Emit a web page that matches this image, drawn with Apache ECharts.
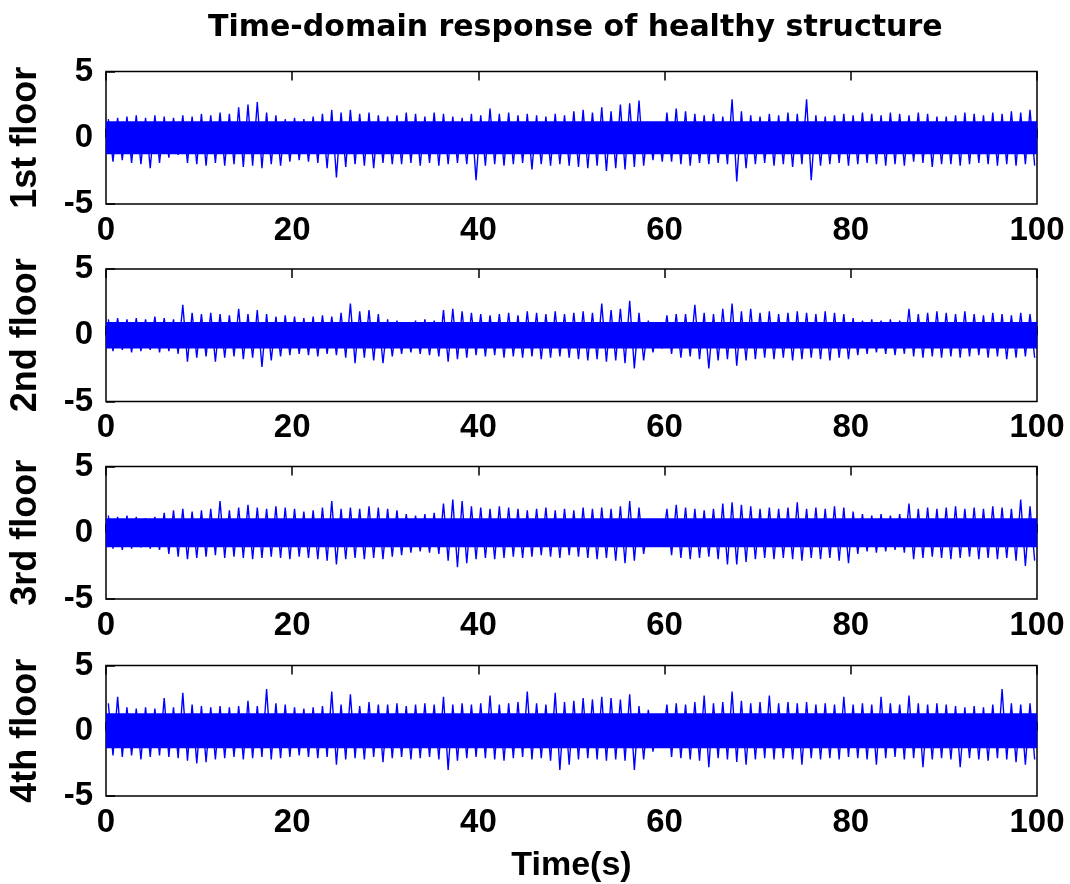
<!DOCTYPE html>
<html>
<head>
<meta charset="utf-8">
<title>Time-domain response of healthy structure</title>
<script src="https://cdn.jsdelivr.net/npm/echarts@6/dist/echarts.min.js"></script>
<style>
  html, body { margin: 0; padding: 0; background: #fff; }
  #main { width: 1070px; height: 884px; }
</style>
</head>
<body>
<div id="main"></div>
<script>
// envelope of each record, read per 1 s bin (upper peak / lower peak)
var floorNames = ['1st floor', '2nd floor', '3rd floor', '4th floor'];
var xTicks = [0, 20, 40, 60, 80, 100];
var yTicks = [-5, 0, 5];

var hi1 = [1.4,1.5,1.6,1.7,1.5,1.7,1.6,1.5,1.7,1.6, 1.8,1.7,1.9,1.8,2.3,2.5,2.7,1.9,1.7,1.4,
           1.5,1.4,1.6,1.8,2.1,1.9,2.1,1.8,1.9,1.7, 1.6,1.7,1.9,1.8,1.6,1.9,1.8,1.6,1.5,1.8,
           1.7,2.2,1.8,1.9,1.7,1.8,1.7,1.6,1.8,1.7, 2.0,2.1,1.9,2.3,2.0,2.5,2.6,2.8,1.2,1.1,
           1.9,2.2,2.0,1.8,1.7,1.8,1.6,2.9,2.0,1.7, 1.6,1.8,1.7,1.9,1.8,2.9,1.7,1.6,1.7,1.8,
           1.7,1.9,1.8,1.7,1.9,1.8,1.7,1.9,1.8,1.6, 1.6,1.7,1.9,1.8,1.7,1.9,1.8,2.0,1.9,2.1];
var lo1 = [-1.8,-1.7,-1.9,-2.0,-2.3,-1.9,-1.5,-1.3,-1.9,-2.0, -2.1,-1.9,-2.1,-2.0,-2.2,-2.1,-2.3,-2.0,-2.1,-1.8,
           -1.7,-1.8,-1.9,-2.3,-3.0,-2.2,-2.0,-2.1,-2.3,-1.9, -2.0,-2.0,-1.9,-2.1,-1.9,-2.1,-2.0,-1.9,-2.0,-3.2,
           -2.1,-2.0,-2.1,-2.0,-1.9,-2.4,-2.0,-2.1,-2.0,-2.1, -2.2,-2.3,-2.1,-2.5,-2.3,-2.4,-2.2,-2.1,-1.7,-1.8,
           -1.8,-2.0,-2.1,-1.9,-2.0,-1.9,-2.0,-3.3,-2.3,-2.0, -1.9,-2.1,-2.0,-2.2,-2.0,-3.2,-2.1,-2.0,-1.9,-2.1,
           -2.0,-1.9,-2.0,-2.1,-2.0,-2.1,-1.8,-1.9,-2.2,-2.0, -2.0,-2.1,-2.0,-1.9,-2.0,-2.1,-2.0,-2.1,-2.0,-2.1];

var hi2 = [1.2,1.3,1.2,1.3,1.2,1.4,1.3,1.2,2.3,1.7, 1.6,1.7,1.6,1.5,2.0,1.6,1.9,1.6,1.4,1.5,
           1.4,1.3,1.4,1.5,1.4,1.7,2.4,1.8,1.9,1.6, 1.2,1.1,1.0,1.1,1.2,1.1,1.9,2.0,1.8,1.7,
           1.6,1.5,1.6,1.7,1.5,1.8,1.7,1.6,1.8,1.6, 1.7,1.8,1.7,2.4,1.9,2.0,2.6,1.7,1.1,0.9,
           1.5,1.6,1.6,2.3,1.7,1.6,2.0,2.4,1.8,2.0, 1.7,1.8,1.6,1.7,1.8,1.7,1.6,1.8,1.7,1.6,
           1.3,1.1,1.2,1.1,1.2,1.1,2.0,1.6,1.7,1.8, 1.7,1.6,1.8,1.6,1.5,1.7,1.6,1.5,1.7,1.6];
var lo2 = [-1.2,-1.1,-1.3,-1.2,-1.1,-1.3,-1.2,-1.4,-2.0,-1.7, -1.6,-2.0,-1.7,-1.6,-1.8,-1.7,-2.4,-1.9,-1.6,-1.5,
           -1.4,-1.5,-1.6,-1.4,-1.5,-1.7,-2.1,-1.7,-1.9,-2.1, -1.6,-1.4,-1.3,-1.4,-1.5,-1.6,-2.0,-1.8,-1.7,-1.5,
           -1.6,-1.5,-1.7,-1.6,-1.7,-1.6,-1.8,-1.7,-1.6,-1.7, -1.8,-1.9,-1.8,-2.0,-1.9,-2.1,-2.5,-1.9,-1.3,-1.0,
           -1.4,-1.7,-1.6,-1.8,-2.5,-1.9,-1.8,-2.3,-1.9,-1.8, -1.7,-1.8,-1.7,-1.9,-1.8,-1.7,-1.8,-1.9,-1.7,-1.8,
           -1.5,-1.4,-1.3,-1.4,-1.5,-1.4,-1.6,-1.7,-1.6,-1.7, -1.6,-1.7,-1.6,-1.5,-1.7,-1.6,-1.8,-1.7,-1.6,-1.7];

var hi3 = [1.3,1.2,1.3,1.2,1.1,1.2,1.5,1.7,1.8,1.6, 1.7,1.8,2.4,1.7,1.9,2.1,1.9,1.8,2.0,1.9,
           1.8,1.6,1.7,1.9,2.4,1.8,1.9,1.8,2.0,1.9, 1.8,1.7,1.4,1.3,1.4,1.5,2.2,2.5,2.4,2.0,
           1.9,1.8,2.0,1.9,1.8,1.7,1.8,1.9,1.7,1.8, 1.7,1.9,1.8,1.9,1.8,2.0,2.4,1.9,0.7,0.6,
           1.8,2.1,1.9,1.8,1.7,1.8,2.2,2.3,2.1,2.0, 1.8,1.9,1.8,1.9,2.3,1.8,1.9,1.8,2.0,1.9,
           1.6,1.4,1.3,1.4,1.3,1.4,2.2,1.8,1.9,1.8, 1.9,2.0,1.8,1.9,1.8,2.0,1.9,1.8,2.5,2.0];
var lo3 = [-1.2,-1.3,-1.2,-1.1,-1.2,-1.3,-1.6,-1.8,-2.0,-1.9, -1.8,-1.7,-1.9,-1.8,-1.9,-2.0,-1.9,-1.8,-1.9,-2.0,
           -1.8,-1.9,-2.0,-2.1,-2.4,-2.0,-1.9,-2.0,-1.9,-2.0, -1.8,-1.7,-1.5,-1.4,-1.5,-1.6,-2.1,-2.6,-2.3,-2.0,
           -1.9,-2.0,-1.9,-1.8,-1.9,-1.8,-1.7,-1.8,-1.9,-1.7, -1.8,-1.9,-2.0,-1.9,-2.1,-2.3,-2.1,-1.6,-0.9,-1.0,
           -1.7,-1.9,-2.0,-1.9,-1.8,-2.0,-2.4,-2.4,-2.2,-2.0, -1.9,-2.0,-1.9,-2.0,-2.1,-1.9,-2.0,-1.9,-2.1,-2.3,
           -1.6,-1.4,-1.5,-1.4,-1.3,-1.5,-2.0,-1.9,-1.8,-1.9, -2.0,-1.9,-1.8,-2.0,-1.9,-2.0,-1.9,-2.1,-2.5,-2.1];

var hi4 = [2.1,2.6,1.8,1.7,1.8,1.7,2.5,1.8,2.9,2.0, 1.9,1.8,1.9,1.8,1.9,2.3,1.9,3.2,2.1,2.0,
           1.8,1.7,1.8,1.9,3.0,2.0,2.8,1.9,2.2,2.0, 2.0,2.1,1.9,2.0,2.1,2.0,2.6,2.0,2.1,2.0,
           2.1,2.7,2.0,2.1,2.2,3.0,2.1,2.0,2.9,2.2, 2.3,2.5,2.4,2.6,2.5,2.4,2.8,1.9,1.6,0.9,
           2.0,2.1,2.0,2.2,2.7,2.1,2.2,3.0,2.3,2.1, 2.2,2.7,2.1,2.2,2.1,2.2,2.0,2.1,2.0,2.6,
           2.0,2.1,2.0,2.6,2.1,2.0,2.7,2.1,2.0,2.1, 2.0,1.9,1.8,1.9,1.8,2.0,3.2,2.1,2.0,2.1];
var lo4 = [-1.9,-2.0,-1.9,-2.2,-2.0,-1.9,-2.0,-2.1,-2.3,-2.5, -2.4,-2.2,-2.1,-2.0,-2.2,-2.1,-2.0,-2.2,-2.1,-2.0,
           -1.9,-2.0,-2.1,-2.0,-2.6,-2.2,-2.1,-2.2,-2.0,-2.4, -2.1,-2.0,-2.2,-2.1,-2.0,-2.2,-3.0,-2.3,-2.1,-2.0,
           -2.1,-2.2,-2.3,-2.1,-2.0,-2.2,-2.1,-2.3,-3.0,-2.6, -2.2,-2.1,-2.2,-2.3,-2.2,-2.3,-3.0,-2.2,-1.6,-0.7,
           -2.0,-2.1,-2.2,-2.3,-2.8,-2.1,-2.2,-2.4,-2.6,-2.2, -2.1,-2.2,-2.1,-2.2,-2.6,-2.1,-2.2,-2.1,-2.2,-2.0,
           -2.1,-2.2,-2.6,-2.1,-2.0,-2.2,-2.1,-2.8,-2.2,-2.1, -2.2,-2.8,-2.1,-2.2,-2.3,-2.1,-2.2,-2.4,-2.6,-2.2];

// dense middle part of each record (+/- amplitude)
var coreAmp = [1.25, 1.0, 1.1, 1.35];

var highs = [hi1, hi2, hi3, hi4];
var lows = [lo1, lo2, lo3, lo4];

var chart = echarts.init(document.getElementById('main'));

var gridTops = [71.5, 269, 466.5, 665.5];
var labelFont = { fontFamily: 'Liberation Sans', fontWeight: 'bold', fontSize: 33, color: '#000' };

var grids = [], xAxes = [], yAxes = [], series = [];

for (var k = 0; k < 4; k++) {
  grids.push({
    left: 105, right: 33, top: gridTops[k], height: 132.5,
    show: true, borderColor: '#000', borderWidth: 1.5, backgroundColor: '#fff'
  });
  // bottom axis with labels
  xAxes.push({
    type: 'value', gridIndex: k, min: xTicks[0], max: xTicks[xTicks.length - 1], interval: 20,
    position: 'bottom',
    axisLine: { show: false },
    axisTick: { show: true, inside: true, length: 9, lineStyle: { color: '#000', width: 1.5 } },
    axisLabel: Object.assign({ margin: 10 }, labelFont),
    splitLine: { show: false },
    name: k === 3 ? 'Time(s)' : '',
    nameLocation: 'middle', nameGap: 53,
    nameTextStyle: { fontFamily: 'Liberation Sans', fontWeight: 'bold', fontSize: 34, color: '#000' }
  });
  // top mirror axis, ticks only
  xAxes.push({
    type: 'value', gridIndex: k, min: 0, max: 100, interval: 20,
    position: 'top',
    axisLine: { show: false },
    axisTick: { show: true, inside: true, length: 9, lineStyle: { color: '#000', width: 1.5 } },
    axisLabel: { show: false },
    splitLine: { show: false }
  });
  yAxes.push({
    type: 'value', gridIndex: k, min: yTicks[0], max: yTicks[2], interval: 5,
    axisLine: { show: false },
    axisTick: { show: true, inside: true, length: 9, lineStyle: { color: '#000', width: 1.5 } },
    axisLabel: Object.assign({ margin: 13 }, labelFont),
    splitLine: { show: false },
    name: floorNames[k],
    nameLocation: 'middle', nameRotate: 90, nameGap: 62,
    nameTextStyle: { fontFamily: 'Liberation Sans', fontWeight: 'bold', fontSize: 36, color: '#000' }
  });

  var pts = [];
  for (var i = 0; i < highs[k].length; i++) {
    pts.push([i + 0.25, highs[k][i]]);
    pts.push([i + 0.75, lows[k][i]]);
  }
  series.push({
    type: 'line', xAxisIndex: k * 2, yAxisIndex: k,
    data: pts, showSymbol: false, symbol: 'none', silent: true, animation: false,
    lineStyle: { color: '#0000ff', width: 1.4 },
    markArea: {
      silent: true,
      itemStyle: { color: '#0000ff' },
      data: [[{ coord: [0, -coreAmp[k]] }, { coord: [100, coreAmp[k]] }]]
    }
  });
}

chart.setOption({
  animation: false,
  backgroundColor: '#fff',
  title: {
    text: 'Time-domain response of healthy structure',
    left: 203, top: 8,
    textStyle: { fontFamily: 'DejaVu Sans', fontWeight: 'bold', fontSize: 30, color: '#000' }
  },
  grid: grids,
  xAxis: xAxes,
  yAxis: yAxes,
  series: series
});
</script>
</body>
</html>
